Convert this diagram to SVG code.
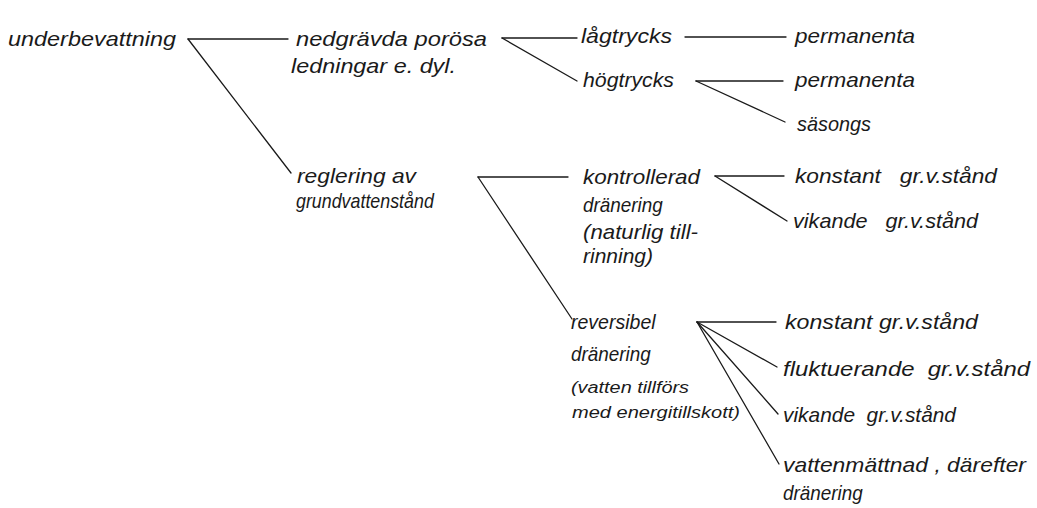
<svg xmlns="http://www.w3.org/2000/svg" width="1037" height="508" viewBox="0 0 1037 508">
<style>
text{font-family:"Liberation Sans",Arial,sans-serif;font-style:italic;font-size:21px;fill:#1a1a1a}
text.s{font-size:16px}
.c line{stroke:#1a1a1a;stroke-width:1.3;stroke-linecap:round}
</style>
<rect width="1037" height="508" fill="#fff"/>
<g class="c" id="connectors">
<line x1="188" y1="39" x2="288" y2="39"/>
<line x1="188" y1="39" x2="291" y2="173"/>
<line x1="502" y1="38" x2="577" y2="38"/>
<line x1="502" y1="38" x2="577" y2="81"/>
<line x1="685" y1="37" x2="786" y2="37"/>
<line x1="696" y1="81" x2="783" y2="81"/>
<line x1="696" y1="81" x2="785" y2="122"/>
<line x1="478" y1="177" x2="568" y2="177"/>
<line x1="478" y1="177" x2="572" y2="319"/>
<line x1="715" y1="176" x2="784" y2="176"/>
<line x1="715" y1="176" x2="787" y2="221"/>
<line x1="697" y1="322" x2="776" y2="322"/>
<line x1="697" y1="322" x2="777" y2="367"/>
<line x1="697" y1="322" x2="778" y2="414"/>
<line x1="697" y1="322" x2="779" y2="464"/>
</g>
<g id="n-underbevattning"><text x="8" y="46" textLength="168" lengthAdjust="spacingAndGlyphs">underbevattning</text></g>
<g id="n-nedgravda"><text x="296" y="46" textLength="191" lengthAdjust="spacingAndGlyphs">nedgrävda porösa</text><text x="291" y="73" textLength="165" lengthAdjust="spacingAndGlyphs">ledningar e. dyl.</text></g>
<g id="n-lagtrycks"><text x="581" y="43" textLength="91" lengthAdjust="spacingAndGlyphs">lågtrycks</text></g>
<g id="n-hogtrycks"><text x="583" y="87" textLength="91" lengthAdjust="spacingAndGlyphs">högtrycks</text></g>
<g id="n-permanenta1"><text x="795" y="43" textLength="120" lengthAdjust="spacingAndGlyphs">permanenta</text></g>
<g id="n-permanenta2"><text x="795" y="87" textLength="120" lengthAdjust="spacingAndGlyphs">permanenta</text></g>
<g id="n-sasongs"><text x="797" y="131" textLength="74" lengthAdjust="spacingAndGlyphs">säsongs</text></g>
<g id="n-reglering"><text x="297" y="183" textLength="119" lengthAdjust="spacingAndGlyphs">reglering av</text><text transform="translate(296,208) scale(0.85,1)">grundvattenstånd</text></g>
<g id="n-kontrollerad"><text x="583" y="184" textLength="117" lengthAdjust="spacingAndGlyphs">kontrollerad</text><text transform="translate(583,212) scale(0.9,1)">dränering</text><text x="583" y="239" textLength="115" lengthAdjust="spacingAndGlyphs">(naturlig till-</text><text x="583" y="263">rinning)</text></g>
<g id="n-konstant1"><text x="795" y="183" textLength="202" lengthAdjust="spacingAndGlyphs" xml:space="preserve">konstant   gr.v.stånd</text></g>
<g id="n-vikande1"><text x="793" y="228" textLength="185" lengthAdjust="spacingAndGlyphs" xml:space="preserve">vikande   gr.v.stånd</text></g>
<g id="n-reversibel"><text transform="translate(571,329) scale(0.93,1)">reversibel</text><text transform="translate(571,361) scale(0.9,1)">dränering</text><text class="s" x="571" y="393" textLength="118" lengthAdjust="spacingAndGlyphs">(vatten tillförs</text><text class="s" x="572" y="418" textLength="168" lengthAdjust="spacingAndGlyphs">med energitillskott)</text></g>
<g id="n-konstant2"><text x="785" y="329" textLength="193" lengthAdjust="spacingAndGlyphs">konstant gr.v.stånd</text></g>
<g id="n-fluktuerande"><text x="783" y="376" textLength="247" lengthAdjust="spacingAndGlyphs" xml:space="preserve">fluktuerande  gr.v.stånd</text></g>
<g id="n-vikande2"><text x="783" y="422" textLength="173" lengthAdjust="spacingAndGlyphs" xml:space="preserve">vikande  gr.v.stånd</text></g>
<g id="n-vattenmattnad"><text x="783" y="472" textLength="243" lengthAdjust="spacingAndGlyphs">vattenmättnad , därefter</text><text transform="translate(783,500) scale(0.9,1)">dränering</text></g>
</svg>
